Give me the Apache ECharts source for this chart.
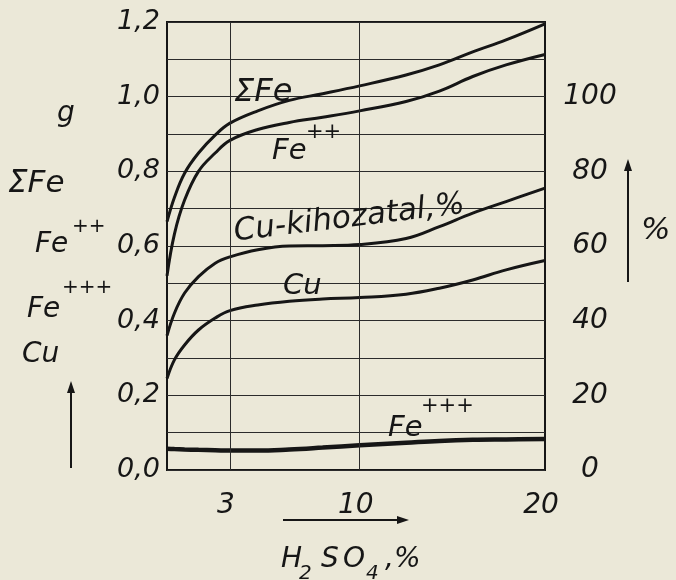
<!DOCTYPE html>
<html><head><meta charset="utf-8">
<script src="https://cdn.jsdelivr.net/npm/echarts/dist/echarts.min.js"></script>
<style>html,body{margin:0;padding:0;background:#ebe8d8;}#c{width:676px;height:580px;}</style>
</head><body><div id="c"></div>
<script>
// H2SO4 concentration, %
const xs      = [-0.4, 0, 0.55, 1.3, 2.2, 3, 4.5, 6.2, 8, 10, 12.5, 14.3, 16.1, 17.9, 20];
// grams
const sumFe   = [0.665, 0.73, 0.795, 0.849, 0.897, 0.929, 0.962, 0.99, 1.008, 1.029, 1.058, 1.085, 1.12, 1.152, 1.195];
const fe2     = [0.52, 0.632, 0.723, 0.80, 0.849, 0.883, 0.912, 0.931, 0.945, 0.962, 0.987, 1.015, 1.054, 1.085, 1.113];
const cu      = [0.245, 0.295, 0.335, 0.375, 0.407, 0.427, 0.442, 0.452, 0.458, 0.462, 0.471, 0.487, 0.509, 0.536, 0.561];
const fe3     = [0.057, 0.056, 0.055, 0.054, 0.053, 0.052, 0.052, 0.055, 0.060, 0.066, 0.073, 0.078, 0.081, 0.082, 0.083];
// Cu recovery, % (right axis)
const cuYield = [36, 42, 47.4, 51.8, 55.4, 57.1, 59, 60, 60.1, 60.4, 62, 65.2, 68.8, 71.9, 75.5];

const xTickLabels = [3, 10, 20];
const xGridLines = [3, 10];

const INK = '#161616';
const FONT = 'DejaVu Sans';

function pairs(ys) { return xs.map((x, i) => [x, ys[i]]); }

function T(text, x, baseline, fs, extra) {
  return Object.assign({
    type: 'text', x: x, y: baseline - 0.3 * fs, z: 50,
    style: { text: text, fill: INK, fontFamily: FONT, fontStyle: 'italic', fontSize: fs,
             textAlign: 'left', textVerticalAlign: 'middle' }
  }, extra || {});
}
function L(x1, y1, x2, y2, w) {
  return { type: 'line', z: 50, shape: { x1, y1, x2, y2 }, style: { stroke: INK, lineWidth: w || 2 } };
}
function P(points) {
  return { type: 'polygon', z: 50, shape: { points }, style: { fill: INK } };
}

const lineBase = { type: 'line', smooth: 0.4, showSymbol: false, silent: true,
                   lineStyle: { color: INK, width: 3 }, itemStyle: { color: INK } };

const chart = echarts.init(document.getElementById('c'), null, { renderer: 'canvas' });
chart.setOption({
  backgroundColor: '#ebe8d8',
  animation: false,
  grid: { left: 167, right: 131, top: 22, bottom: 110, show: true, borderColor: INK, borderWidth: 2,
          backgroundColor: 'transparent' },
  xAxis: {
    type: 'value', min: -0.4, max: 20,
    axisLine: { show: false }, axisTick: { show: false }, splitLine: { show: false },
    axisLabel: { customValues: xTickLabels, color: INK, fontFamily: FONT, fontStyle: 'italic',
                 fontSize: 28, margin: 22, padding: [0, 8, 0, 0] }
  },
  yAxis: [{
    type: 'value', min: 0, max: 1.2, interval: 0.1,
    axisLine: { show: false }, axisTick: { show: false },
    splitLine: { show: true, lineStyle: { color: '#2b2b2b', width: 1 } },
    axisLabel: { color: INK, fontFamily: FONT, fontStyle: 'italic', fontSize: 27, margin: 7,
      formatter: v => { const k = Math.round(v * 10); return k % 2 === 0 ? (k / 10).toFixed(1).replace('.', ',') : ''; } }
  }, {
    type: 'value', min: 0, max: 120, interval: 20, position: 'right',
    axisLine: { show: false }, axisTick: { show: false }, splitLine: { show: false },
    axisLabel: { color: INK, fontFamily: FONT, fontStyle: 'italic', fontSize: 28, margin: 45, align: 'center',
      formatter: v => v >= 120 ? '' : String(v) }
  }],
  series: [
    Object.assign({}, lineBase, { name: 'ΣFe', data: pairs(sumFe),
      markLine: { silent: true, symbol: 'none', label: { show: false },
                  lineStyle: { color: '#2b2b2b', width: 1, type: 'solid' },
                  data: xGridLines.map(v => ({ xAxis: v })) } }),
    Object.assign({}, lineBase, { name: 'Fe++', data: pairs(fe2) }),
    Object.assign({}, lineBase, { name: 'Cu-kihozatal,%', yAxisIndex: 1, data: pairs(cuYield) }),
    Object.assign({}, lineBase, { name: 'Cu', data: pairs(cu) }),
    Object.assign({}, lineBase, { name: 'Fe+++', data: pairs(fe3), lineStyle: { color: INK, width: 4.5 } })
  ],
  graphic: [
    // left axis title
    T('g', 57, 122, 28),
    T('ΣFe', 8, 193, 31),
    T('Fe', 35, 253, 28), T('++', 72, 233, 20),
    T('Fe', 27, 318, 28), T('+++', 62, 294, 20),
    T('Cu', 22, 363, 28),
    L(71, 468, 71, 392, 2), P([[67, 393], [75, 393], [71, 381]]),
    // right axis title
    T('%', 641, 240, 31),
    L(628, 282, 628, 170, 2), P([[624, 171], [632, 171], [628, 159]]),
    // x axis title
    L(283, 520, 398, 520, 2), P([[397, 516], [397, 524], [409, 520]]),
    T('H', 281, 568, 28), T('2', 299, 580, 20), T('S', 321, 568, 28), T('O', 343, 568, 28),
    T('4', 366, 580, 20), T(',%', 385, 568, 28),
    // curve labels
    T('ΣFe', 234, 102, 32),
    T('Fe', 272, 160, 29), T('++', 306, 139, 21),
    T('Cu-kihozatal,%', 0, 0, 31, { x: 236, y: 248, rotation: 0.12,
      style: { text: 'Cu-kihozatal,%', fill: INK, fontFamily: FONT, fontStyle: 'italic', fontSize: 31,
               textAlign: 'left', textVerticalAlign: 'bottom' } }),
    T('Cu', 283, 295, 29),
    T('Fe', 388, 437, 29), T('+++', 421, 413, 21)
  ]
});
</script></body></html>
